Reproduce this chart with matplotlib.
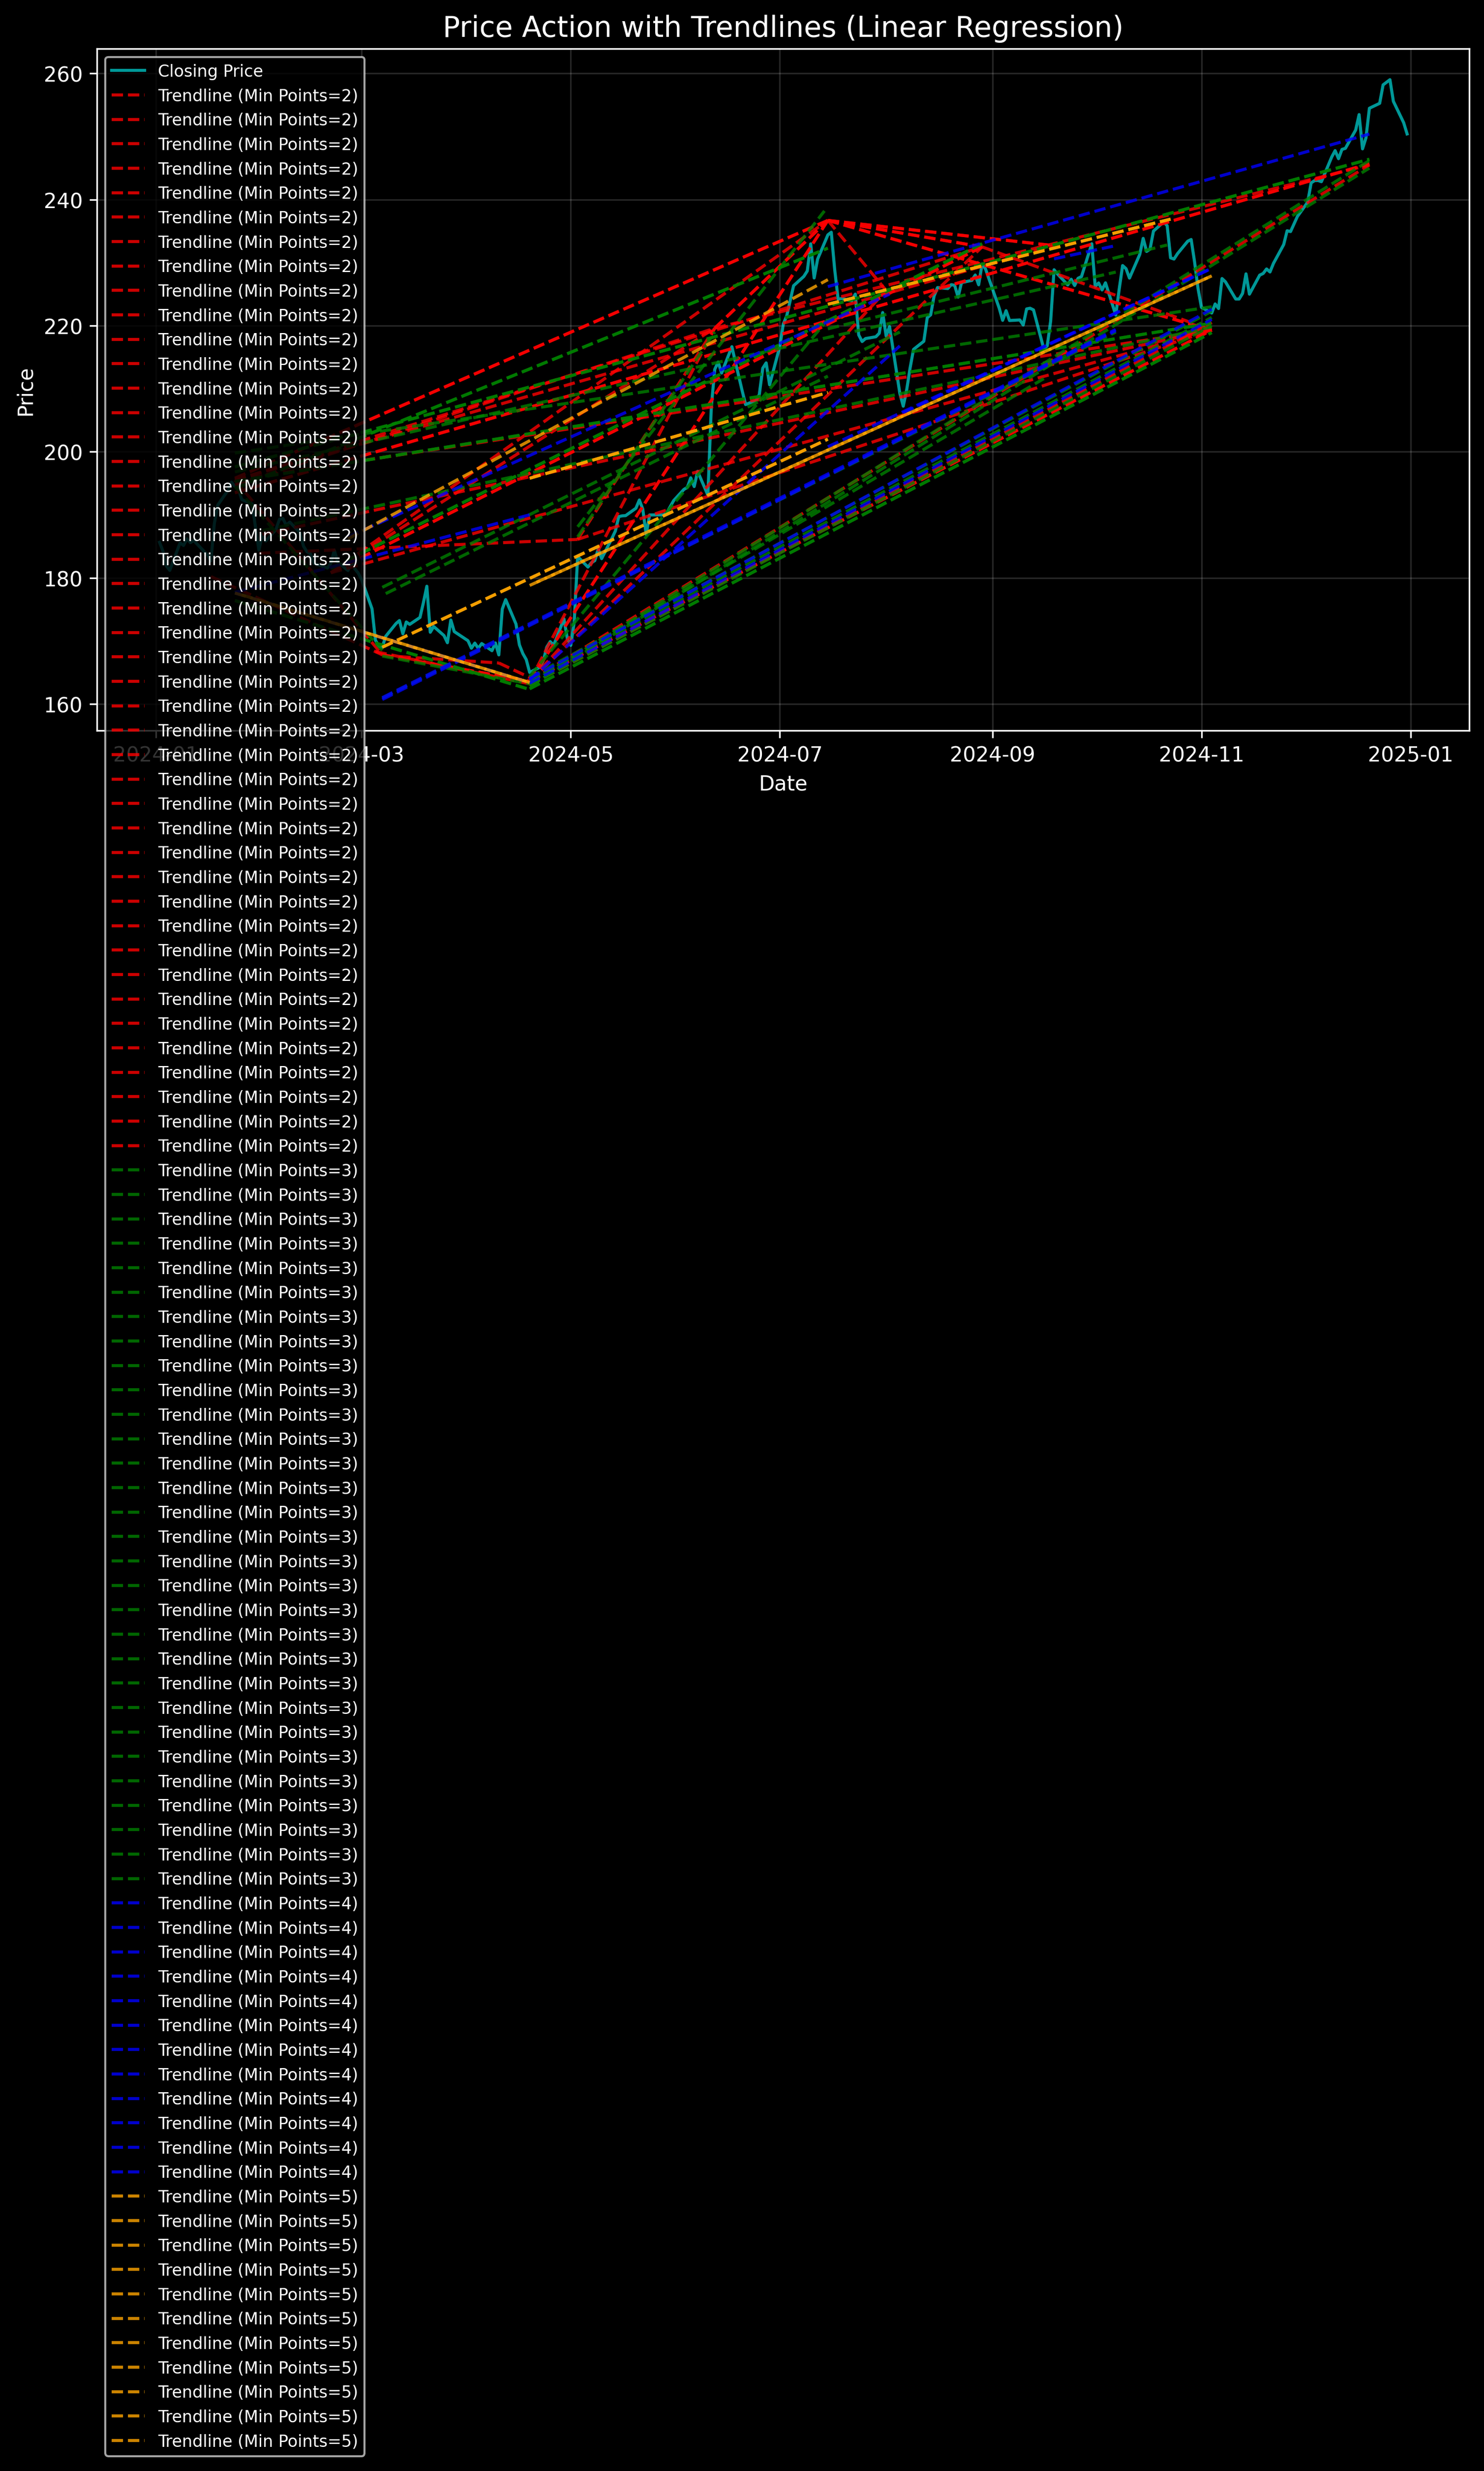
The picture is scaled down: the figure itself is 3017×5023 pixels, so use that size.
import matplotlib
matplotlib.use("Agg")
import matplotlib.pyplot as plt
import pandas as pd

# daily closing prices, 2024 (month-day, close)
session_days = [
    "01-02", "01-03", "01-04", "01-05", "01-08", "01-09", "01-10", "01-11", "01-12", "01-16",
    "01-17", "01-18", "01-19", "01-22", "01-23", "01-24", "01-25", "01-26", "01-29", "01-30", "01-31",
    "02-01", "02-02", "02-05", "02-06", "02-07", "02-08", "02-09", "02-12", "02-13", "02-14",
    "02-15", "02-16", "02-20", "02-21", "02-22", "02-23", "02-26", "02-27", "02-28", "02-29",
    "03-01", "03-04", "03-05", "03-06", "03-07", "03-08", "03-11", "03-12", "03-13", "03-14",
    "03-15", "03-18", "03-19", "03-20", "03-21", "03-22", "03-25", "03-26", "03-27", "03-28",
    "04-01", "04-02", "04-03", "04-04", "04-05", "04-08", "04-09", "04-10", "04-11", "04-12", "04-15",
    "04-16", "04-17", "04-18", "04-19", "04-22", "04-23", "04-24", "04-25", "04-26", "04-29", "04-30",
    "05-01", "05-02", "05-03", "05-06", "05-07", "05-08", "05-09", "05-10", "05-13", "05-14", "05-15",
    "05-16", "05-17", "05-20", "05-21", "05-22", "05-23", "05-24", "05-28", "05-29", "05-30", "05-31",
    "06-03", "06-04", "06-05", "06-06", "06-07", "06-10", "06-11", "06-12", "06-13", "06-14",
    "06-17", "06-18", "06-20", "06-21", "06-24", "06-25", "06-26", "06-27", "06-28",
    "07-01", "07-02", "07-03", "07-05", "07-08", "07-09", "07-10", "07-11", "07-12", "07-15", "07-16",
    "07-17", "07-18", "07-19", "07-22", "07-23", "07-24", "07-25", "07-26", "07-29", "07-30", "07-31",
    "08-01", "08-02", "08-05", "08-06", "08-07", "08-08", "08-09", "08-12", "08-13", "08-14", "08-15",
    "08-16", "08-19", "08-20", "08-21", "08-22", "08-23", "08-26", "08-27", "08-28", "08-29", "08-30",
    "09-03", "09-04", "09-05", "09-06", "09-09", "09-10", "09-11", "09-12", "09-13", "09-16",
    "09-17", "09-18", "09-19", "09-20", "09-23", "09-24", "09-25", "09-26", "09-27", "09-30",
    "10-01", "10-02", "10-03", "10-04", "10-07", "10-08", "10-09", "10-10", "10-11", "10-14", "10-15", "10-16",
    "10-17", "10-18", "10-21", "10-22", "10-23", "10-24", "10-25", "10-28", "10-29", "10-30", "10-31",
    "11-01", "11-04", "11-05", "11-06", "11-07", "11-08", "11-11", "11-12", "11-13", "11-14",
    "11-15", "11-18", "11-19", "11-20", "11-21", "11-22", "11-25", "11-26", "11-27", "11-29",
    "12-02", "12-03", "12-04", "12-05", "12-06", "12-09", "12-10", "12-11", "12-12", "12-13", "12-16",
    "12-17", "12-18", "12-19", "12-20", "12-23", "12-24", "12-26", "12-27", "12-30", "12-31",
]
closing_price = [
    185.64, 184.25, 181.91, 181.18, 185.56, 185.14, 186.19, 185.59, 185.92, 183.63,
    182.68, 188.63, 191.56, 193.89, 195.18, 194.50, 194.17, 192.42, 191.73, 188.04, 184.40,
    186.86, 185.85, 187.68, 189.30, 189.41, 188.32, 188.85, 187.15, 185.04, 184.15,
    183.86, 182.31, 181.56, 182.32, 184.37, 182.52, 181.16, 182.63, 181.42, 180.75,
    179.66, 175.10, 170.12, 169.12, 169.00, 170.73, 172.75, 173.23, 171.13, 173.00,
    172.62, 173.72, 176.08, 178.67, 171.37, 172.28, 170.85, 169.71, 173.31, 171.48,
    170.03, 168.84, 169.65, 168.82, 169.58, 168.45, 169.67, 167.78, 175.04, 176.55, 172.69,
    169.38, 168.00, 167.04, 165.00, 165.84, 166.90, 169.02, 169.89, 169.30, 173.50, 170.33,
    169.30, 173.03, 183.38, 181.71, 182.40, 182.74, 184.57, 183.05, 186.28, 187.43, 189.72,
    189.84, 189.87, 191.04, 192.35, 190.90, 186.88, 189.98, 189.99, 190.29, 191.29, 192.25,
    194.03, 194.35, 195.87, 194.48, 196.89, 193.12, 207.15, 213.07, 214.24, 212.49,
    216.67, 214.29, 209.68, 207.49, 208.14, 209.07, 213.25, 214.10, 210.62,
    216.75, 220.27, 221.55, 226.34, 227.82, 228.68, 232.98, 227.57, 230.54, 234.40, 234.82,
    228.88, 224.18, 224.31, 223.96, 225.01, 218.54, 217.49, 217.96, 218.24, 218.80, 222.08,
    218.36, 219.86, 209.27, 207.23, 209.82, 213.31, 216.24, 217.53, 221.27, 221.72, 224.72,
    226.05, 225.89, 226.51, 226.40, 224.53, 226.84, 227.18, 228.03, 226.49, 229.79, 229.00,
    222.77, 220.85, 222.38, 220.82, 220.91, 220.11, 222.66, 222.77, 222.50, 216.32,
    216.79, 220.69, 228.87, 228.20, 226.47, 227.37, 226.37, 227.52, 227.79, 233.00,
    226.21, 226.78, 225.67, 226.80, 221.69, 225.77, 229.54, 229.04, 227.55, 231.30, 233.85, 231.78,
    232.15, 235.00, 236.48, 235.86, 230.76, 230.57, 231.41, 233.40, 233.67, 230.10, 225.91,
    222.91, 222.01, 223.45, 222.72, 227.48, 226.96, 224.23, 224.23, 225.12, 228.22,
    225.00, 228.02, 228.28, 229.00, 228.52, 229.87, 232.87, 235.06, 234.93, 237.33,
    239.59, 242.65, 243.01, 243.04, 242.84, 246.75, 247.77, 246.49, 247.96, 248.13, 251.04,
    253.48, 248.05, 249.79, 254.49, 255.27, 258.20, 259.02, 255.59, 252.20, 250.42,
]

# trendline segments: (start day, start price, end day, end price)
red_lines = [
    ("01-24", 195.8, "07-15", 236.7), ("01-24", 194.7, "06-12", 219.6),
    ("01-24", 193.5, "12-20", 245.7), ("01-24", 195.5, "11-04", 219.3),
    ("02-01", 186.9, "11-04", 219.3), ("01-31", 183.9, "05-03", 186.1),
    ("02-21", 180.8, "08-29", 232.5), ("02-21", 180.8, "06-12", 219.6),
    ("02-21", 180.8, "11-04", 219.3), ("01-24", 195.5, "03-07", 167.8),
    ("01-17", 180.2, "03-07", 167.8), ("03-07", 167.8, "04-19", 163.6),
    ("03-05", 168.3, "04-19", 163.2), ("03-12", 167.5, "04-10", 166.5),
    ("04-10", 166.5, "04-19", 164.2), ("04-19", 163.6, "07-15", 236.7),
    ("04-19", 163.6, "08-29", 232.5), ("04-19", 163.6, "11-04", 219.3),
    ("04-19", 163.6, "12-20", 245.5), ("04-19", 163.6, "08-01", 225.6),
    ("04-19", 163.6, "06-12", 219.6), ("05-03", 186.1, "06-12", 219.6),
    ("05-03", 186.1, "11-04", 219.3), ("06-12", 219.6, "07-15", 236.7),
    ("06-12", 219.6, "12-20", 245.5), ("07-15", 236.7, "08-29", 232.5),
    ("07-15", 236.7, "11-04", 219.3), ("07-15", 236.7, "09-19", 232.7),
    ("07-15", 236.7, "08-01", 225.6), ("08-29", 232.5, "11-04", 219.3),
    ("01-24", 195.5, "08-29", 232.5), ("01-24", 195.5, "09-19", 232.7),
    ("02-21", 180.8, "07-15", 236.7), ("04-19", 163.0, "11-04", 220.5),
    ("07-15", 236.7, "11-04", 219.3), ("07-15", 236.7, "09-19", 232.7),
    ("01-24", 195.8, "07-15", 236.7), ("07-15", 236.7, "08-29", 232.5),
    ("03-07", 167.8, "04-19", 163.6), ("04-19", 163.6, "07-15", 236.7),
    ("04-19", 163.6, "11-04", 219.3), ("06-12", 219.6, "07-15", 236.7),
    ("01-24", 193.5, "12-20", 245.7), ("02-21", 180.8, "08-29", 232.5),
]
green_lines = [
    ("01-24", 194.2, "07-15", 232.3), ("01-24", 197.6, "12-20", 246.4),
    ("05-03", 188.1, "07-14", 238.2), ("03-07", 178.5, "08-05", 219.0),
    ("03-08", 177.5, "07-15", 212.0), ("07-15", 219.5, "10-22", 232.8),
    ("02-21", 181.5, "08-29", 233.0), ("01-24", 195.3, "11-04", 220.4),
    ("01-24", 199.8, "11-04", 223.0), ("01-24", 196.8, "10-07", 228.5),
    ("04-19", 164.4, "07-15", 221.0), ("01-24", 176.4, "04-19", 162.3),
    ("03-07", 167.6, "04-19", 163.2), ("03-07", 160.9, "10-07", 219.0),
    ("04-19", 163.5, "09-16", 211.6), ("04-19", 162.4, "11-04", 218.9),
    ("04-19", 163.0, "11-04", 220.0), ("04-19", 164.2, "11-04", 222.3),
    ("04-19", 163.2, "12-20", 246.2), ("04-19", 162.8, "12-20", 245.0),
    ("04-19", 163.8, "11-04", 221.3), ("01-24", 194.5, "03-07", 168.5),
    ("05-03", 186.5, "06-12", 219.0), ("02-01", 187.5, "11-04", 219.8),
    ("01-24", 194.2, "07-15", 232.3), ("01-24", 197.6, "12-20", 246.4),
    ("01-24", 195.3, "11-04", 220.4), ("04-19", 162.4, "11-04", 218.9),
    ("01-24", 176.4, "04-19", 162.3), ("02-21", 181.5, "08-29", 233.0),
]
blue_lines = [
    ("07-15", 226.2, "12-20", 250.4), ("09-19", 230.6, "10-07", 232.7),
    ("07-15", 200.8, "11-04", 229.1), ("08-06", 206.2, "11-04", 229.1),
    ("03-07", 160.7, "10-07", 219.2), ("04-19", 163.8, "08-05", 216.8),
    ("01-24", 177.6, "04-19", 163.4), ("02-26", 186.5, "08-02", 225.0),
    ("01-24", 177.7, "04-19", 190.0), ("04-19", 164.0, "11-04", 222.6),
    ("04-19", 163.3, "11-04", 221.0), ("03-07", 161.0, "10-07", 219.4),
]
orange_lines = [
    ("03-07", 169.0, "07-15", 202.0), ("04-19", 178.8, "11-04", 227.9),
    ("04-21", 179.3, "11-04", 227.9), ("07-15", 223.4, "10-23", 236.9),
    ("02-26", 186.2, "07-15", 227.3), ("01-24", 177.6, "04-19", 163.4),
    ("04-19", 195.8, "07-15", 209.4), ("01-26", 177.3, "04-19", 163.4),
    ("03-07", 169.0, "07-15", 202.0), ("07-15", 223.4, "10-23", 236.9),
    ("04-19", 195.8, "07-15", 209.4),
]

line_groups = [
    (2, "red", red_lines),
    (3, "green", green_lines),
    (4, "blue", blue_lines),
    (5, "orange", orange_lines),
]


def to_date(month_day):
    return pd.Timestamp("2024-" + month_day)


plt.style.use("dark_background")
plt.figure(figsize=(12, 6))

dates = [to_date(d) for d in session_days]
plt.plot(dates, closing_price, label="Closing Price", color="cyan", alpha=0.6)

for min_points, color, segments in line_groups:
    for start, p0, end, p1 in segments:
        plt.plot([to_date(start), to_date(end)], [p0, p1], linestyle="--",
                 color=color, alpha=0.8, label=f"Trendline (Min Points={min_points})")

plt.title("Price Action with Trendlines (Linear Regression)", fontsize=14)
plt.xlabel("Date")
plt.ylabel("Price")
plt.legend(loc="upper left", fontsize=8)
plt.grid(True, alpha=0.15)
plt.savefig("out.png", dpi=300, bbox_inches="tight")
